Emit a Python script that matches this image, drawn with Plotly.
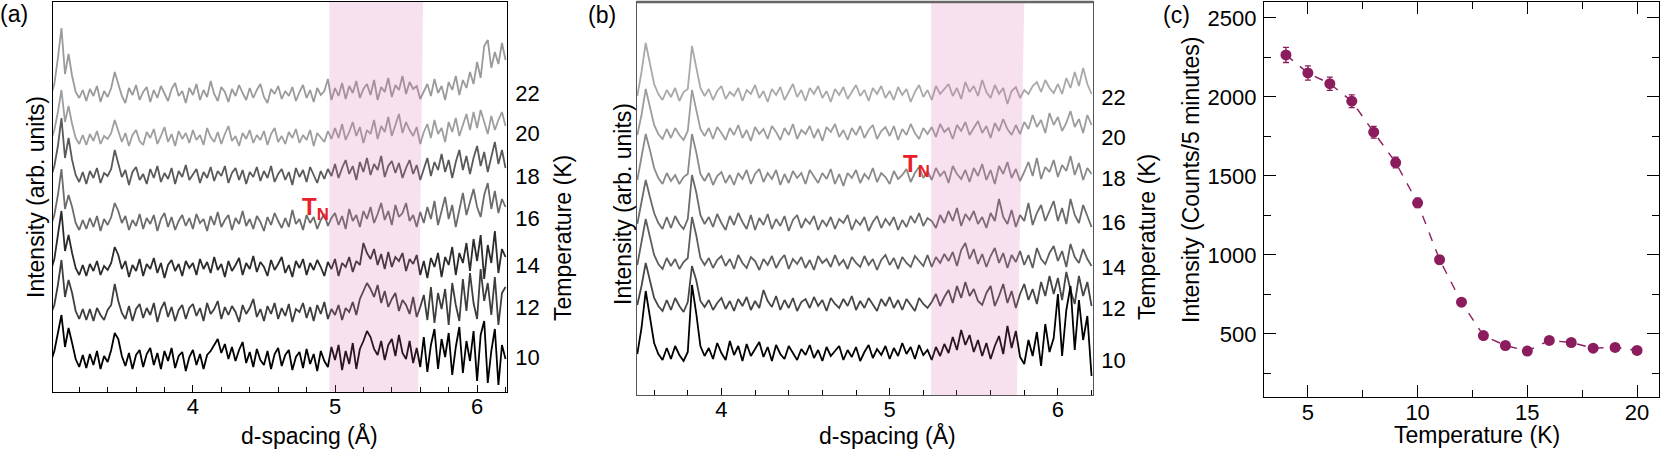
import numpy as np
import plotly.graph_objects as go

# temperaturas de cada difractograma (K)
temps = [10, 12, 14, 16, 18, 20, 22]

# panel (a): intensidad sobre la linea base, muestreo cada 0.025 A desde 3.0 A
a_10 = [1, 12, 30, 48, 16, 35, 20, 4, -4, 8,
        -5, 9, -2, 12, -6, 7, 1, 13, 30, 24,
        7, -3, 10, -6, 8, 13, -4, 9, 15, -2,
        10, -6, 12, 2, 15, -5, 7, 11, -8, 6,
        13, -2, 9, -6, 8, 12, 18, 24, 10, 19,
        4, 16, 2, 13, 21, 0, 11, -4, 14, 3,
        -2, 12, -6, 9, 15, -3, 8, 13, -7, 6,
        11, -5, 14, -1, 9, -8, 12, 2, -4, 16,
        3, 18, -7, 12, -1, 20, -6, 14, 22, 32,
        26, 14, 8, 22, 3, 18, 24, 7, 28, 10,
        4, 22, 0, 15, -4, 26, -9, 18, 34, -6,
        24, 6, 30, -12, 16, 36, -10, 22, 2, 32,
        -18, 28, 42, -20, 12, 34, -22, 18, 4]
a_12 = [3, 12, 32, 57, 20, 37, 24, 6, -2, 8,
        -3, 8, -4, 9, 2, -3, 7, 12, 33, 16,
        4, -2, 11, -4, 8, 13, -1, 9, 2, 14,
        -5, 8, 15, 0, 10, -4, 7, 12, -2, 9,
        13, 1, 9, -4, 14, 3, 8, 16, -2, 10,
        2, 11, 5, -5, 12, 3, 9, 18, 0, 8,
        -4, 11, 3, 14, -2, 9, 1, 13, -5, 8,
        5, 14, -1, 10, -4, 12, 3, 15, -2, 8,
        2, 12, -3, 9, 5, 15, 2, 18, 26, 34,
        28, 20, 32, 14, 26, 10, 18, 24, 6, 17,
        12, 3, 20, 0, 10, 22, -3, 30, -6, 24,
        8, 28, -8, 34, 12, -4, 38, 6, 44, 14,
        -2, 48, 16, 34, 2, 40, -8, 24, 30]
a_14 = [2, 14, 38, 62, 22, 38, 20, 5, -2, 8,
        -3, 9, 2, 12, -2, 7, 3, 10, 26, 18,
        4, 12, -4, 8, 2, 14, -3, 9, 4, 15,
        0, 10, -5, 8, 13, 2, 9, -3, 12, 5,
        10, -2, 14, 4, 11, 0, 16, 3, 9, -4,
        12, 2, 8, 15, -2, 10, 4, 17, 1, 11,
        6, -3, 13, 3, 9, 16, 0, 8, -4, 12,
        5, 14, -2, 10, 3, 13, 6, -3, 11, 4,
        14, -3, 10, 6, 16, 1, 12, 8, 30, 20,
        14, 24, 8, 19, 4, 21, 6, 16, 12, 20,
        2, 14, 9, 18, -2, 12, -5, 15, 6, 20,
        -4, 16, 8, 26, -2, 20, 10, 30, 2, 34,
        12, 38, -6, 28, 10, 42, 0, 24, 16]
a_16 = [1, 12, 32, 58, 18, 32, 20, 4, -3, 7,
        -2, 9, 0, 11, -4, 8, 2, 10, 24, 16,
        4, 11, -3, 7, 1, 13, -2, 9, 3, 12,
        -4, 8, 14, 0, 10, -3, 6, 12, 1, 9,
        -2, 13, 4, 8, -4, 11, 2, 15, 0, 7,
        12, -3, 9, 3, 16, 1, 8, -2, 11, 5,
        -4, 10, 2, 14, 6, -1, 9, 0, 17, 3,
        8, -3, 12, 4, 10, -2, 7, 13, 1, 9,
        14, 2, 11, -2, 18, 6, 12, 0, 16, 8,
        20, 4, 13, 24, 7, 16, 2, 22, 10, 14,
        24, 6, 12, 0, 15, 4, 20, 8, 26, 2,
        16, 30, 8, 22, 0, 18, 34, 12, 26, 38,
        20, 10, 32, 44, 18, 36, 14, 28, 20]
a_18 = [2, 14, 34, 62, 22, 42, 20, 5, -2, 8,
        -4, 9, 2, 12, -3, 7, 4, 11, 30, 15,
        3, 10, -5, 8, 13, 0, 6, -4, 11, 2,
        14, -2, 7, 1, 12, -4, 9, 3, 15, 0,
        6, 11, -3, 8, 2, 13, -1, 9, 4, 14,
        -3, 7, 12, 0, 10, -4, 8, 3, 13, -1,
        9, 2, 14, -2, 6, 11, 0, 8, -5, 12,
        3, 10, -2, 13, 5, -3, 9, 1, 11, 4,
        16, 2, 12, 20, 6, 14, 0, 18, 8, 22,
        5, 16, 10, 24, 3, 14, 19, 7, 17, 2,
        12, 20, 6, 15, 0, 10, 22, 4, 18, 10,
        26, 8, 20, 2, 18, 30, 10, 24, 6, 22,
        34, 14, 28, 8, 24, 38, 16, 30, 12]
a_20 = [1, 12, 30, 52, 20, 36, 18, 4, -2, 7,
        -3, 8, 1, 11, -2, 6, 3, 9, 22, 10,
        0, 9, -4, 7, 12, 1, -3, 10, 4, 13,
        -2, 6, 15, 0, 8, -4, 11, 3, 9, -1,
        12, 2, 7, -3, 14, 5, 0, 10, -2, 8,
        16, 1, 6, -4, 9, 3, 12, -1, 7, 2,
        11, -3, 8, 14, 0, 6, -2, 10, 4, 13,
        -1, 7, 2, 12, -4, 9, 5, 0, 11, 3,
        14, 4, 18, 2, 10, 20, 6, 15, -1, 12,
        8, 22, 3, 16, 10, 25, 6, 18, 28, 9,
        20, 12, 6, 15, -2, 10, 18, 4, 22, 8,
        14, 0, 20, 10, 24, 6, 18, 28, 12, 30,
        14, 32, 20, 8, 26, 12, 22, 30, 16]
a_22 = [2, 14, 40, 70, 24, 44, 22, 6, 0, 8,
        -3, 9, 2, 12, -4, 7, 1, 10, 26, 14,
        2, -5, 10, 3, 13, -2, 6, 11, -4, 8,
        0, 12, 4, -3, 9, 15, 2, 7, -5, 10,
        3, 14, -2, 8, 1, 17, 4, -3, 11, 6,
        -4, 9, 2, 13, 5, -2, 10, 0, 8, 14,
        1, -5, 9, 4, 12, -1, 7, 2, 11, -3,
        6, 13, 0, 8, -4, 10, 3, 7, 19, -2,
        10, 2, 15, -1, 12, 5, 17, 0, 9, 14,
        3, 18, -2, 11, 6, 20, 1, 13, 8, 22,
        4, 16, 9, 12, -1, 6, 14, 2, 19, 5,
        12, -2, 16, 8, 22, 3, 18, 10, 26, 14,
        36, 20, 52, 58, 30, 46, 34, 55, 38]

# panel (b): muestreo cada 0.025 A desde 3.5 A
b_10 = [4, 30, 67, 40, 15, 4, -2, 10, -1, 12,
        3, -3, 6, 73, 45, 12, 2, 10, -1, 15,
        5, -2, 17, 3, 12, -3, 14, 2, 9, 16,
        1, 11, -3, 13, 4, -1, 12, 5, -2, 9,
        3, 13, 0, 8, -3, 11, 2, 7, 12, -2,
        8, 1, 11, -3, 6, 13, 0, 9, 3, 12,
        -1, 10, 2, 15, 4, 11, -1, 13, 3, 8,
        -2, 11, 2, 14, 5, 21, 8, 28, 13, 23,
        6, 18, 2, 15, -1, 12, 22, 4, 32, 10,
        27, 1, -6, 18, 2, 26, -8, 34, 6, 20,
        64, 2, 48, 72, 8, 58, 18, 42, -18]
b_12 = [3, 22, 45, 28, 10, 2, -3, 8, -2, 10,
        2, -4, 6, 42, 28, 7, 1, 8, -2, 5,
        10, -1, 7, -3, 9, 2, 11, -2, 7, 0,
        18, 7, 1, 12, -2, 8, 0, 10, -3, 6,
        9, 0, 11, 2, 8, -3, 10, 4, 0, 9,
        2, 12, -2, 7, 0, 10, 4, -3, 9, 2,
        11, 0, 8, -2, 9, 3, -3, 10, 4, 0,
        6, 14, 2, 11, 18, 5, 22, 10, 26, 12,
        19, 7, 3, 15, 22, 2, 12, 24, 5, 17,
        0, 14, 24, 8, 19, 4, 26, 12, 32, 14,
        30, 8, 36, 18, 4, 32, 12, 26, 2]
b_14 = [2, 24, 48, 30, 12, 3, -2, 9, 1, 8,
        -2, 5, 9, 50, 32, 9, 2, 9, -1, 7,
        11, 1, 8, -2, 12, 4, -1, 10, 6, -3,
        8, 2, 11, -1, 7, 12, -2, 8, 3, 10,
        -1, 7, -3, 11, 4, 8, 0, 12, 2, 7,
        -2, 10, 4, 0, 11, 2, 8, -3, 7, 12,
        2, 9, -2, 10, 4, 0, 11, 6, 1, 12,
        0, 10, 4, 13, 6, 15, 1, 17, 24, 8,
        18, 3, 13, 0, 11, 19, 4, 14, -1, 12,
        5, 16, 2, 12, -1, 19, 8, 3, 14, 21,
        6, 16, 0, 23, 10, 4, 18, 8, 1]
b_16 = [3, 25, 47, 30, 14, 4, -2, 10, -1, 11,
        3, -2, 8, 52, 35, 12, 3, 10, 0, 13,
        4, -3, 11, 2, 14, 5, -2, 12, -3, 9,
        2, 13, -2, 8, 1, 11, -4, 7, 12, -1,
        8, 3, 11, -3, 7, 1, 10, -2, 8, 4,
        12, -3, 7, 2, 10, -4, 5, 11, -1, 8,
        2, 10, -3, 7, 0, 11, 4, 14, 1, 9,
        6, -1, 12, 4, 16, 6, 19, 1, 13, 7,
        16, 3, 10, -1, 14, 6, 28, 10, 3, 17,
        0, 12, 6, 24, 2, 14, 22, 6, 16, 26,
        6, 19, 3, 28, 12, 4, 22, 10, 0]
b_18 = [2, 24, 48, 32, 14, 4, -2, 9, 1, 7,
        -2, 5, 8, 48, 30, 8, 1, 9, -3, 6,
        10, -1, 7, -3, 9, 3, 12, -2, 8, 13,
        0, 9, 3, 12, -3, 8, -1, 11, 4, 9,
        -2, 12, 5, -1, 9, 3, 13, -2, 8, -4,
        9, 4, 12, -1, 8, 3, 14, 0, 9, 5,
        -2, 11, 3, 7, 13, 0, 9, 15, 4, 11,
        2, 14, 6, 11, -1, 16, 8, 3, 12, 0,
        14, 6, 18, 2, 12, -2, 16, 8, 20, 4,
        13, 1, 10, 20, 6, 24, 3, 15, 10, 22,
        5, 17, 11, 26, 7, 19, 2, 14, 8]
b_20 = [2, 22, 48, 30, 12, 3, -2, 8, -1, 9,
        2, -3, 6, 47, 28, 8, 1, 9, -2, 10,
        4, -3, 9, 2, 12, -1, 7, -4, 10, 3,
        8, -2, 11, 5, -3, 9, 2, 13, -2, 7,
        3, 11, -1, 8, -4, 10, 5, 13, 0, 7,
        -3, 9, 2, 11, -1, 7, 12, -2, 6, 10,
        1, 11, -3, 8, 2, 13, 4, -2, 9, 3,
        10, 0, 13, 5, 9, -2, 12, 6, 15, 2,
        9, 16, 4, 11, -1, 14, 6, 18, 8, 2,
        12, 3, 15, 8, 22, 10, 17, 4, 24, 12,
        20, 6, 14, 26, 10, 18, 4, 22, 12]
b_22 = [2, 26, 55, 34, 14, 4, -2, 8, 1, 10,
        -3, 6, 9, 52, 30, 10, 2, 9, -2, 7,
        12, -1, 6, 2, 10, -3, 8, 4, 13, 0,
        7, -4, 9, 3, 11, -2, 6, 14, 1, 8,
        -3, 10, 4, 12, 0, 7, -4, 9, 3, 11,
        -1, 6, 13, 2, 8, -3, 10, 4, 12, 0,
        7, -2, 11, 3, 9, -4, 6, 13, 1, 8,
        -2, 12, 4, 9, 14, 2, 10, -1, 16, 6,
        12, 2, 18, 6, 0, 13, 4, 10, -6, 7,
        11, 0, 8, 4, 12, 16, 6, 18, 10, 5,
        14, 4, 20, 10, 26, 12, 30, 14, 4]

# desplazamiento vertical de cada curva (apilado) y altura de su etiqueta
base_a = [29, 75, 119, 165, 212, 250, 294]
lab_a = [35, 85, 127, 174, 216, 259, 299]
base_b = [37, 87, 128, 168, 213, 258, 297]
lab_b = [35, 87, 128, 173, 217, 258, 298]

# zona sombreada (A): inferior izq, inferior der, superior der
band_a = [4.96, 5.585, 5.62]
band_b = [5.246, 5.756, 5.80]

# panel (c): intensidad integrada vs temperatura
T_c = [4, 5, 6, 7, 8, 9, 10, 11, 12, 13, 14, 15, 16, 17, 18, 19, 20]
I_c = [2265, 2151, 2083, 1972, 1776, 1584, 1329, 969, 700, 489, 426, 391, 458, 445, 409, 414, 395]
err_c = [48, 45, 42, 40, 37, 34, 30, 26, 22, 19, 18, 18, 19, 18, 18, 18, 18]

FONT = "Arial, Liberation Sans, sans-serif"
W, H = 1661, 453
col_a = ["#000000", "#3e3e3e", "#2c2c2c", "#6c6c6c", "#5a5a5a", "#9e9e9e", "#9a9a9a"]
col_b = ["#000000", "#474747", "#5e5e5e", "#6b6b6b", "#8a8a8a", "#9d9d9d", "#a9a9a9"]
morado = "#8B1D5E"

fig = go.Figure()

datos_a = [a_10, a_12, a_14, a_16, a_18, a_20, a_22]
datos_b = [b_10, b_12, b_14, b_16, b_18, b_20, b_22]

# se dibuja de la curva de mayor temperatura a la de menor
for k in reversed(range(len(temps))):
    ya = np.array(datos_a[k]) + base_a[k]
    xa = 3.0 + 0.025 * np.arange(len(ya))
    fig.add_trace(go.Scatter(x=xa, y=ya, mode="lines", xaxis="x", yaxis="y",
                             line=dict(color=col_a[k], width=1.8), showlegend=False))
for k in reversed(range(len(temps))):
    yb = np.array(datos_b[k]) + base_b[k]
    xb = 3.5 + 0.025 * np.arange(len(yb))
    fig.add_trace(go.Scatter(x=xb, y=yb, mode="lines", xaxis="x2", yaxis="y2",
                             line=dict(color=col_b[k], width=1.8), showlegend=False))

fig.add_trace(go.Scatter(x=T_c, y=I_c, mode="lines+markers", xaxis="x3", yaxis="y3",
                         line=dict(color=morado, width=1.4, dash="dash"),
                         marker=dict(color=morado, size=11),
                         error_y=dict(type="data", array=err_c, color=morado, thickness=1.3, width=3),
                         showlegend=False))


def px_x(p):
    return p / W


def px_y(p):
    return 1 - p / H


ejes_d = dict(showgrid=False, zeroline=False, showline=True, linecolor="black", linewidth=1,
              mirror=True, ticks="inside", ticklen=7, tickcolor="black", tick0=0, dtick=1,
              minor=dict(ticks="inside", dtick=0.2, ticklen=5, tickcolor="black"),
              tickfont=dict(size=22, color="black"), ticklabelstandoff=-5)
ejes_T = dict(showgrid=False, zeroline=False, showline=True, linecolor="black", linewidth=1,
              mirror=True, side="right", ticks="outside", ticklen=3, tickcolor="rgba(0,0,0,0)",
              tickfont=dict(size=22, color="black"))

fig.update_layout(
    width=W, height=H, margin=dict(l=0, r=0, t=0, b=0),
    plot_bgcolor="white", paper_bgcolor="white",
    font=dict(family=FONT, color="black"),
    xaxis=dict(ejes_d, domain=[px_x(52.5), px_x(506.8)], range=[3.012, 6.209], anchor="y"),
    yaxis=dict(ejes_T, domain=[px_y(392), px_y(2)], range=[0, 390], anchor="x",
               tickvals=lab_a, ticktext=[str(t) for t in temps]),
    xaxis2=dict(ejes_d, domain=[px_x(636.8), px_x(1092.9)], range=[3.497, 6.208], anchor="y2",
                linecolor="#555555"),
    yaxis2=dict(ejes_T, domain=[px_y(395), px_y(2)], range=[0, 393], anchor="x2",
                linecolor="#555555", tickvals=lab_b, ticktext=[str(t) for t in temps]),
    xaxis3=dict(domain=[px_x(1264), px_x(1659)], range=[3, 21], anchor="y3",
                showgrid=False, zeroline=False, showline=True, linecolor="black", linewidth=1.3,
                mirror="ticks", ticks="inside", ticklen=12, tickwidth=1.3, tickcolor="black",
                tick0=0, dtick=5, tickfont=dict(size=22, color="black"), ticklabelstandoff=-5,
                minor=dict(ticks="inside", dtick=2.5, ticklen=7, tickcolor="black", tickwidth=1.3)),
    yaxis3=dict(domain=[px_y(397), px_y(2)], range=[100, 2600], anchor="x3",
                showgrid=False, zeroline=False, showline=True, linecolor="black", linewidth=1.3,
                mirror="ticks", ticks="inside", ticklen=12, tickwidth=1.3, tickcolor="black",
                tick0=0, dtick=500, tickfont=dict(size=22, color="black"), ticklabelstandoff=2,
                minor=dict(ticks="inside", dtick=250, ticklen=7, tickcolor="black", tickwidth=1.3)),
)

# zonas rosadas encima de las curvas
rosa = "rgba(220,105,170,0.2)"
fig.add_shape(type="path", xref="x", yref="y", layer="above", line=dict(width=0), fillcolor=rosa,
              path=f"M {band_a[0]},0 L {band_a[1]},0 L {band_a[2]},390 L {band_a[0]},390 Z")
fig.add_shape(type="path", xref="x2", yref="y2", layer="above", line=dict(width=0), fillcolor=rosa,
              path=f"M {band_b[0]},0 L {band_b[1]},0 L {band_b[2]},393 L {band_b[0]},393 Z")
# borde superior del panel (b) mas grueso
fig.add_shape(type="line", xref="x2 domain", yref="y2 domain", x0=0, x1=1, y0=1, y1=1,
              line=dict(color="#666666", width=2.5))

tit = dict(size=23, color="black")
notas = [
    dict(text="(a)", x=px_x(14), y=px_y(14)),
    dict(text="(b)", x=px_x(602), y=px_y(15)),
    dict(text="(c)", x=px_x(1176), y=px_y(15)),
    dict(text="d-spacing (Å)", x=px_x(309), y=px_y(435)),
    dict(text="d-spacing (Å)", x=px_x(887), y=px_y(435)),
    dict(text="Temperature (K)", x=px_x(1477), y=px_y(435)),
    dict(text="Intensity (arb. units)", x=px_x(36), y=px_y(197), textangle=-90),
    dict(text="Intensity (arb. units)", x=px_x(623), y=px_y(204), textangle=-90),
    dict(text="Temperature (K)", x=px_x(563), y=px_y(238), textangle=-90),
    dict(text="Temperature (K)", x=px_x(1147), y=px_y(237), textangle=-90),
    dict(text="Intensity (Counts/5 minutes)", x=px_x(1191), y=px_y(180), textangle=-90),
]
for n in notas:
    fig.add_annotation(xref="paper", yref="paper", showarrow=False, font=tit,
                       xanchor="center", yanchor="middle", **n)

rojo = "#E8202A"
fig.add_annotation(x=4.754, y=184, xref="x", yref="y", text="<b>T</b><sub><b>N</b></sub>",
                   showarrow=False, xanchor="left", yanchor="middle", font=dict(size=24, color=rojo))
fig.add_annotation(x=5.068, y=230, xref="x2", yref="y2", text="<b>T</b><sub><b>N</b></sub>",
                   showarrow=False, xanchor="left", yanchor="middle", font=dict(size=24, color=rojo))

# sin el margen por defecto del body la figura ocupa toda la ventana
fig.write_html("out.html", config={"displayModeBar": False},
               post_script="document.body.style.margin='0px';document.body.style.overflow='hidden';")
